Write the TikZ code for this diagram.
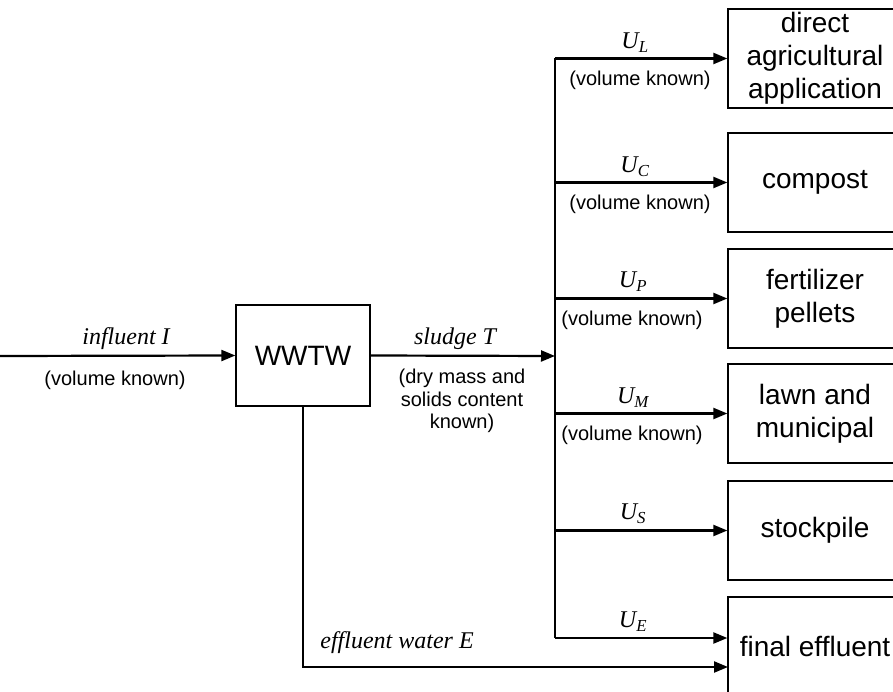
\documentclass[tikz,border=0pt]{standalone}
\usepackage{fontspec}
\setmainfont{Liberation Serif}
\setsansfont{Liberation Sans}
\usetikzlibrary{arrows.meta}
\tikzstyle{plant}=[rectangle, draw, line width=1.3pt, font=\sffamily\fontsize{28}{33}\selectfont, align=center]
\tikzstyle{outlet}=[plant, minimum width=174pt, minimum height=99pt]
\tikzstyle{flowlabel}=[font=\itshape\fontsize{24}{27}\selectfont]
\tikzstyle{note}=[font=\sffamily\fontsize{20}{22.5}\selectfont, align=center]
\newcommand{\usub}[1]{\textit{U}\textsubscript{\textit{#1}}}

\begin{document}
\begin{tikzpicture}[x=1pt, y=-1pt, line width=2.2pt, >={Triangle[length=14pt,width=11pt]}]
    \useasboundingbox (0,0) rectangle (893,692);
    \clip (0,0) rectangle (893,692);

    \node[plant, minimum width=134pt, minimum height=101pt] (wwtw) at (303,355.5) {WWTW};
    \node[outlet] (direct)  at (815,58.5)  {direct\\agricultural\\application};
    \node[outlet] (compost) at (815,182.5) {compost};
    \node[outlet] (pellets) at (815,298.5) {fertilizer\\pellets};
    \node[outlet] (lawn)    at (815,413.5) {lawn and\\municipal};
    \node[outlet] (stock)   at (815,530.5) {stockpile};
    \node[outlet] (final)   at (815,646.5) {final effluent};

    \coordinate (src)   at (0,356);
    \coordinate (bus)   at (555,356);
    \coordinate (bL)    at (555,58.5);
    \coordinate (bC)    at (555,182.5);
    \coordinate (bP)    at (555,298.5);
    \coordinate (bM)    at (555,413.5);
    \coordinate (bS)    at (555,530.5);
    \coordinate (bE)    at (555,638);
    \coordinate (effin) at (728,667);

    \draw[->] (src) -- (wwtw.west);
    \draw[->] (wwtw.east) -- (bus);
    \draw (bL) -- (bE);
    \draw[->] (bL) -- (direct.west);
    \draw[->] (bC) -- (compost.west);
    \draw[->] (bP) -- (pellets.west);
    \draw[->] (bM) -- (lawn.west);
    \draw[->] (bS) -- (stock.west);
    \draw[->] (bE) -- (bE -| final.west);
    \draw[->] (wwtw.south) |- (effin);

    % flow labels
    \node[flowlabel] (infl)   at (126,339) {influent I};
    \node[note]      (inv)    at (115,380) {(volume known)};
    \node[flowlabel] (sludge) at (455,339) {sludge T};
    \node[note]      (sdv)    at (462,401) {(dry mass and\\solids content\\known)};
    \node[flowlabel] (uL) at (635,43)  {\usub{L}};
    \node[note]      (vL) at (640,80)  {(volume known)};
    \node[flowlabel] (uC) at (635,167) {\usub{C}};
    \node[note]      (vC) at (640,204) {(volume known)};
    \node[flowlabel] (uP) at (633,282) {\usub{P}};
    \node[note]      (vP) at (632,320) {(volume known)};
    \node[flowlabel] (uM) at (633,398) {\usub{M}};
    \node[note]      (vM) at (632,435) {(volume known)};
    \node[flowlabel] (uS) at (633,514) {\usub{S}};
    \node[flowlabel] (uE) at (633,622) {\usub{E}};
    \node[flowlabel] (effl) at (397,643) {effluent water E};
\end{tikzpicture}
\end{document}
